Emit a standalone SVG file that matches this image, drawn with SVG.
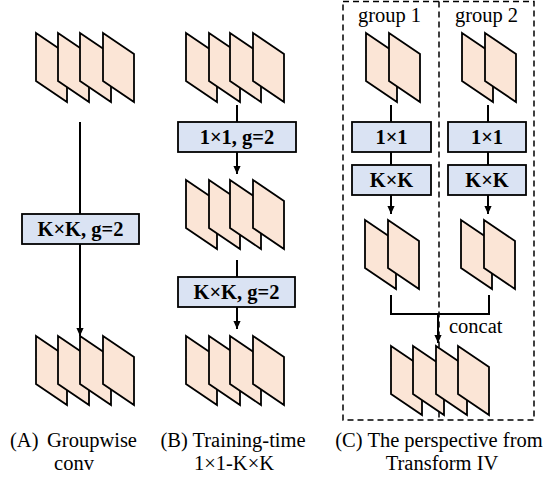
<svg xmlns="http://www.w3.org/2000/svg" xmlns:xlink="http://www.w3.org/1999/xlink" width="545" height="477" viewBox="0 0 545 477">
<style>
.sheet{fill:#fbe5d6;stroke:#000;stroke-width:1.8;stroke-linejoin:miter}
.box{fill:#dae3f3;stroke:#000;stroke-width:1.8}
text{font-family:'Liberation Serif','DejaVu Serif','Noto Serif',serif;font-size:20.5px;fill:#000}
.bt{font-weight:bold;text-anchor:middle}
.c{text-anchor:middle}
.ln{fill:none;stroke:#000;stroke-width:2}
.arr{fill:none;stroke:#000;stroke-width:2;marker-end:url(#ah)}
.dash{fill:none;stroke:#000;stroke-width:1.5;stroke-dasharray:6 4}
</style>
<defs>
<polygon id="sheet" points="0,0 31,21 31,69 0,48"/>
<marker id="ah" viewBox="0 0 10 10" refX="10" refY="5" markerWidth="8" markerHeight="8" markerUnits="userSpaceOnUse" orient="auto">
<path d="M0,0.5 L10,5 L0,9.5 z" fill="#000"/>
</marker>
</defs>

<!-- dashed frame for (C) -->
<g id="frameC">
<rect class="dash" x="343" y="1.5" width="191" height="418.5"/>
<line class="dash" x1="439" y1="1.5" x2="439" y2="420"/>
</g>

<g id="connectors">
<line class="ln" x1="80" y1="122" x2="80" y2="214"/>
<line class="arr" x1="80" y1="244" x2="80" y2="336"/>
<line class="ln" x1="237" y1="105" x2="237" y2="122"/>
<line class="arr" x1="237" y1="152" x2="237" y2="174"/>
<line class="ln" x1="237" y1="260" x2="237" y2="277"/>
<line class="arr" x1="237" y1="307" x2="237" y2="329"/>
<line class="ln" x1="391" y1="105" x2="391" y2="122"/>
<line class="ln" x1="391" y1="152" x2="391" y2="165"/>
<line class="arr" x1="391" y1="195" x2="391" y2="214"/>
<line class="ln" x1="488" y1="105" x2="488" y2="122"/>
<line class="ln" x1="488" y1="152" x2="488" y2="165"/>
<line class="arr" x1="488" y1="195" x2="488" y2="214"/>
<polyline class="ln" points="391,295 391,314 489,314 489,295"/>
<line class="arr" x1="438" y1="314" x2="438" y2="343"/>
</g>

<g id="A-top">
<use xlink:href="#sheet" class="sheet" x="36" y="33"/>
<use xlink:href="#sheet" class="sheet" x="58" y="33"/>
<use xlink:href="#sheet" class="sheet" x="80" y="33"/>
<use xlink:href="#sheet" class="sheet" x="103" y="33"/>
</g>
<g id="A-box">
<rect class="box" x="22" y="214" width="117" height="30"/>
<text class="bt" x="80.5" y="236" font-family="Liberation Serif, serif">K×K, g=2</text>
</g>
<g id="A-bottom">
<use xlink:href="#sheet" class="sheet" x="36" y="336"/>
<use xlink:href="#sheet" class="sheet" x="58" y="336"/>
<use xlink:href="#sheet" class="sheet" x="80" y="336"/>
<use xlink:href="#sheet" class="sheet" x="103" y="336"/>
</g>

<g id="B-top">
<use xlink:href="#sheet" class="sheet" x="186" y="33"/>
<use xlink:href="#sheet" class="sheet" x="209" y="33"/>
<use xlink:href="#sheet" class="sheet" x="230" y="33"/>
<use xlink:href="#sheet" class="sheet" x="253" y="33"/>
</g>
<g id="B-box1">
<rect class="box" x="178" y="122" width="118" height="30"/>
<text class="bt" x="237" y="144">1×1, g=2</text>
</g>
<g id="B-mid">
<use xlink:href="#sheet" class="sheet" x="186" y="180"/>
<use xlink:href="#sheet" class="sheet" x="209" y="180"/>
<use xlink:href="#sheet" class="sheet" x="230" y="180"/>
<use xlink:href="#sheet" class="sheet" x="253" y="180"/>
</g>
<g id="B-box2">
<rect class="box" x="178" y="277" width="117" height="30"/>
<text class="bt" x="236.5" y="299">K×K, g=2</text>
</g>
<g id="B-bottom">
<use xlink:href="#sheet" class="sheet" x="186" y="336"/>
<use xlink:href="#sheet" class="sheet" x="209" y="336"/>
<use xlink:href="#sheet" class="sheet" x="230" y="336"/>
<use xlink:href="#sheet" class="sheet" x="253" y="336"/>
</g>

<g id="C-labels">
<text class="c" x="389.5" y="22">group 1</text>
<text class="c" x="486.5" y="22">group 2</text>
</g>
<g id="C1-top">
<use xlink:href="#sheet" class="sheet" x="366" y="33"/>
<use xlink:href="#sheet" class="sheet" x="389" y="33"/>
</g>
<g id="C2-top">
<use xlink:href="#sheet" class="sheet" x="462" y="33"/>
<use xlink:href="#sheet" class="sheet" x="485" y="33"/>
</g>
<g id="C1-box1">
<rect class="box" x="352" y="122" width="79" height="30"/>
<text class="bt" x="391.5" y="144">1×1</text>
</g>
<g id="C2-box1">
<rect class="box" x="448" y="122" width="78" height="30"/>
<text class="bt" x="487" y="144">1×1</text>
</g>
<g id="C1-box2">
<rect class="box" x="352" y="165" width="79" height="30"/>
<text class="bt" x="391.5" y="187">K×K</text>
</g>
<g id="C2-box2">
<rect class="box" x="448" y="165" width="78" height="30"/>
<text class="bt" x="487" y="187">K×K</text>
</g>
<g id="C1-mid">
<use xlink:href="#sheet" class="sheet" x="365" y="220"/>
<use xlink:href="#sheet" class="sheet" x="388" y="220"/>
</g>
<g id="C2-mid">
<use xlink:href="#sheet" class="sheet" x="461" y="220"/>
<use xlink:href="#sheet" class="sheet" x="484" y="220"/>
</g>
<text x="449" y="333">concat</text>
<g id="C-bottom">
<use xlink:href="#sheet" class="sheet" x="391" y="346"/>
<use xlink:href="#sheet" class="sheet" x="413" y="346"/>
<use xlink:href="#sheet" class="sheet" x="436" y="346"/>
<use xlink:href="#sheet" class="sheet" x="458" y="346"/>
</g>

<g id="captions">
<text x="10" y="447">(A)<tspan x="47">Groupwise</tspan></text>
<text class="c" x="74" y="470">conv</text>
<text class="c" x="233" y="447">(B) Training-time</text>
<text class="c" x="234" y="470">1×1-K×K</text>
<text class="c" x="439" y="447">(C) The perspective from</text>
<text class="c" x="442" y="470">Transform IV</text>
</g>
</svg>
